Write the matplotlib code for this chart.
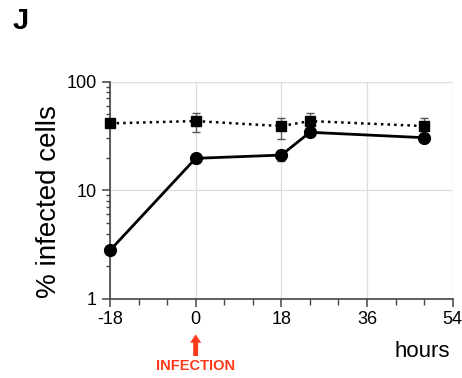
import numpy as np
import matplotlib.pyplot as plt
from matplotlib.ticker import MultipleLocator, LogLocator, NullFormatter, FixedLocator

plt.rcParams['font.family'] = ['Liberation Sans', 'DejaVu Sans']
plt.rcParams['axes.unicode_minus'] = False

# time points (hours) relative to infection
hours = [-18, 0, 18, 24, 48]

# circles, solid line
circ = [2.8, 19.7, 21.1, 34.2, 30.5]
circ_lo = [0.2, 1.8, 2.5, 1.5, 2.0]
circ_hi = [0.2, 1.8, 2.5, 1.5, 2.5]

# squares, dotted line
sq = [41.3, 43.4, 39.0, 43.4, 39.0]
sq_lo = [3.0, 8.8, 9.5, 3.0, 4.0]
sq_hi = [3.0, 7.6, 7.0, 7.6, 7.0]

fig = plt.figure(figsize=(4.62, 3.78), dpi=100)
ax = fig.add_axes([0.238, 0.209, 0.742, 0.575])

ax.errorbar(hours, sq, yerr=[sq_lo, sq_hi], fmt='s', color='black', ls=':',
            lw=1.8, ms=6.5, ecolor='#555555', elinewidth=0.9, capsize=3, zorder=3,
            clip_on=False)
ax.errorbar(hours, circ, yerr=[circ_lo, circ_hi], fmt='o', color='black', ls='-',
            lw=2.0, ms=8.5, ecolor='#555555', elinewidth=0.9, capsize=3, zorder=4,
            clip_on=False)

ax.set_yscale('log')
ax.set_ylim(1, 100)
ax.set_xlim(-18, 54)
ax.xaxis.set_major_locator(FixedLocator([-18, 0, 18, 36, 54]))
ax.xaxis.set_minor_locator(MultipleLocator(6))
ax.yaxis.set_major_locator(FixedLocator([1, 10, 100]))
ax.set_yticklabels(['1', '10', '100'])
ax.yaxis.set_minor_locator(LogLocator(base=10, subs=np.arange(2, 10)))
ax.yaxis.set_minor_formatter(NullFormatter())

ax.grid(True, which='major', color='#dddddd', lw=0.9)
ax.set_axisbelow(True)
for s in ['top', 'right']:
    ax.spines[s].set_visible(False)
for s in ['left', 'bottom']:
    ax.spines[s].set_color('#444444')
    ax.spines[s].set_linewidth(1.2)
ax.tick_params(axis='both', which='major', labelsize=13, length=6, width=1.1, color='#444444')
ax.tick_params(axis='x', which='major', pad=3)
ax.tick_params(axis='both', which='minor', length=4, width=1.0, color='#444444')
ax.tick_params(axis='y', which='minor', length=3)

ax.set_ylabel('% infected cells', fontsize=20)
ax.yaxis.set_label_coords(-0.14, 0.45)

fig.text(0.975, 0.069, 'hours', fontsize=16, ha='right', va='center')
fig.text(0.028, 0.944, 'J', fontsize=21, fontweight='bold', ha='left', va='center')

# infection marker
ax.annotate('', xy=(0, -0.15), xycoords=('data', 'axes fraction'),
            xytext=(0, -0.275), textcoords=('data', 'axes fraction'),
            arrowprops=dict(arrowstyle='simple,head_width=0.8,head_length=0.6,tail_width=0.35',
                            color='#ff3a1a', lw=0))
ax.text(0, -0.31, 'INFECTION', transform=ax.get_xaxis_transform(), color='#ff3a1a',
        fontsize=10.5, fontweight='bold', ha='center', va='center')

fig.savefig('out.png', dpi=100)
